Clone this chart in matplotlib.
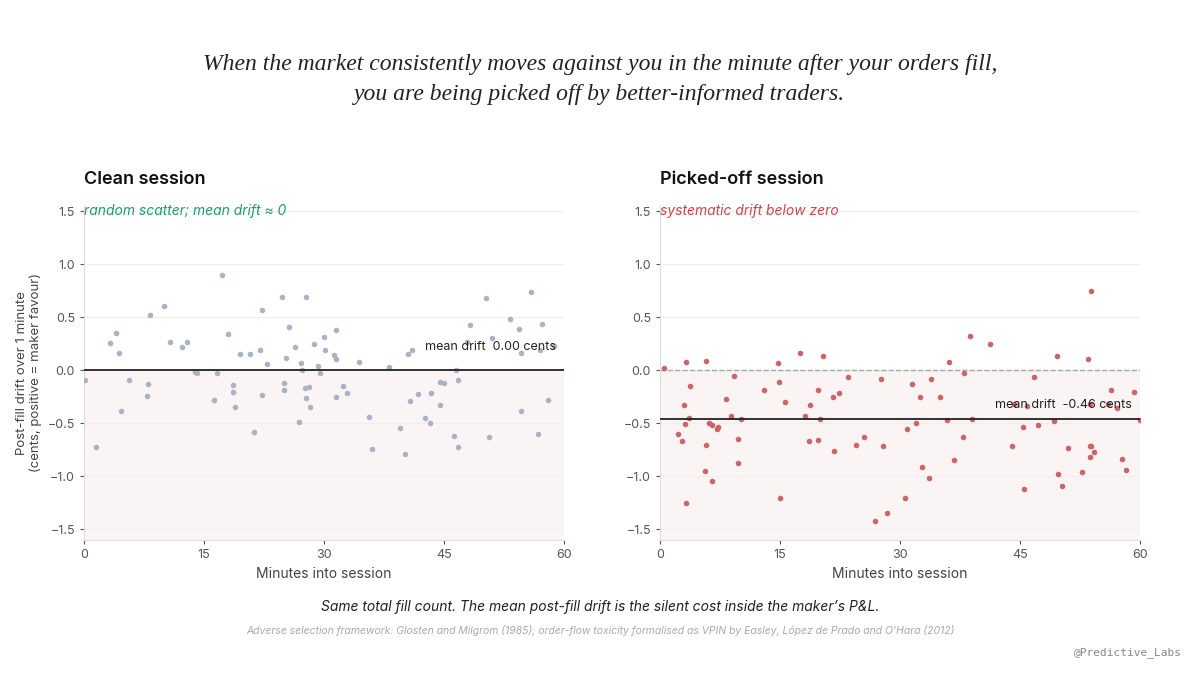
import matplotlib
matplotlib.use('Agg')
from matplotlib import pyplot as plt

# clean session: minute, drift (cents)
clean_t = [0.1, 1.5, 3.2, 4.0, 4.4, 4.6, 5.6, 8.0, 7.9, 8.3, 10.0, 10.8, 12.3, 12.9, 13.9, 14.1,
           16.2, 16.6, 17.3, 18.0, 18.6, 18.6, 18.9, 19.5, 20.7, 21.2, 22.0, 22.3, 22.3, 22.9,
           24.8, 25.0, 25.0, 25.3, 25.6, 26.4, 26.9, 27.1, 27.2, 27.6, 27.8, 27.7, 28.1, 28.3,
           28.7, 29.2, 29.5, 30.0, 30.1, 31.3, 31.5, 31.5, 31.5, 32.4, 32.9, 34.4, 35.6, 36.0,
           38.1, 39.5, 40.1, 40.5, 40.8, 41.0, 41.8, 42.6, 43.2, 43.4, 44.5, 44.5, 45.0, 46.2,
           46.5, 46.7, 46.8, 47.9, 48.2, 50.3, 50.6, 51.0, 53.3, 54.4, 54.6, 54.6, 55.9, 56.8,
           57.0, 57.3, 58.0, 58.7]
clean_y = [-0.09, -0.72, 0.26, 0.35, 0.16, -0.38, -0.09, -0.13, -0.24, 0.52, 0.61, 0.27, 0.22, 0.27, -0.02, -0.03,
           -0.28, -0.03, 0.90, 0.34, -0.14, -0.20, -0.35, 0.15, 0.15, -0.58, 0.19, -0.23, 0.57, 0.06,
           0.69, -0.12, -0.19, 0.12, 0.41, 0.22, -0.49, 0.07, 0.0, -0.17, 0.69, -0.26, -0.16, -0.35,
           0.25, 0.04, -0.03, 0.31, 0.19, 0.14, 0.38, 0.11, -0.25, -0.15, -0.21, 0.08, -0.44, -0.74,
           0.03, -0.54, -0.79, 0.15, -0.29, 0.19, -0.22, -0.45, -0.50, -0.21, -0.11, -0.33, -0.12, -0.62,
           0.0, -0.72, -0.09, 0.27, 0.43, 0.68, -0.63, 0.30, 0.48, 0.39, -0.38, 0.16, 0.74, -0.60,
           0.19, 0.44, -0.28, 0.23]

# picked-off session
picked_t = [0.5, 3.3, 3.0, 3.7, 3.6, 3.1, 2.3, 2.8, 3.3, 5.7, 5.7, 5.6, 6.5, 6.1, 6.5, 7.1, 7.3,
            8.2, 8.9, 9.2, 9.7, 9.8, 10.1, 13.0, 14.7, 14.9, 15.0, 15.6, 17.5, 18.1, 18.8, 18.6,
            19.8, 19.8, 20.0, 20.4, 21.6, 21.8, 22.4, 23.5, 24.5, 25.5, 26.9, 27.6, 27.9, 28.4,
            30.6, 30.9, 31.5, 32.0, 32.5, 32.7, 33.6, 33.9, 35.0, 35.9, 36.1, 36.8, 37.9, 38.0,
            38.8, 39.0, 41.3, 44.0, 44.3, 45.4, 45.5, 45.9, 46.8, 47.3, 49.2, 49.6, 49.8, 50.3,
            51.0, 52.8, 53.5, 53.9, 53.7, 53.8, 53.9, 53.7, 54.2, 56.0, 56.4, 57.1, 57.8, 58.3,
            59.3, 60.0]
picked_y = [0.02, 0.08, -0.33, -0.15, -0.45, -0.51, -0.60, -0.67, -1.25, 0.09, -0.70, -0.95, -1.04, -0.50, -0.52, -0.55, -0.53,
            -0.27, -0.43, -0.05, -0.65, -0.87, -0.46, -0.19, 0.07, -0.11, -1.20, -0.30, 0.16, -0.43, -0.33, -0.67,
            -0.66, -0.19, -0.46, 0.13, -0.25, -0.76, -0.21, -0.06, -0.70, -0.63, -1.42, -0.08, -0.71, -1.35,
            -1.20, -0.55, -0.13, -0.50, -0.25, -0.91, -1.02, -0.08, -0.25, -0.47, 0.08, -0.85, -0.63, -0.03,
            0.32, -0.46, 0.25, -0.71, -0.32, -0.53, -1.12, -0.34, -0.06, -0.52, -0.48, 0.13, -0.98, -1.09,
            -0.73, -0.96, 0.11, 0.75, -0.32, -0.71, -0.71, -0.82, -0.77, -0.32, -0.19, -0.36, -0.84, -0.94,
            -0.20, -0.47]

clean_mean = 0.00
picked_mean = -0.46

plt.rcParams['font.family'] = ['Inter', 'DejaVu Sans']
fig = plt.figure(figsize=(12, 6.75), dpi=100)

fig.text(0.5, 0.882, 'When the market consistently moves against you in the minute after your orders fill,\n'
         'you are being picked off by better-informed traders.',
         ha='center', va='center', fontsize=17, style='italic', family='Liberation Serif',
         color='#222222', linespacing=1.55)

panels = [
    (0.07, 'Clean session', clean_t, clean_y, clean_mean, '#aab3c6',
     'random scatter; mean drift \u2248 0', '#1f9a72', 'mean drift  0.00 cents', 0.16),
    (0.55, 'Picked-off session', picked_t, picked_y, picked_mean, '#cc6468',
     'systematic drift below zero', '#c8474b', 'mean drift  -0.46 cents', 0.08),
]

for i, (left, title, t, y, m, col, note, ncol, mlabel, dy) in enumerate(panels):
    ax = fig.add_axes([left, 0.2, 0.4, 0.495])
    ax.axhspan(-1.6, 0, color='#faf4f4', zorder=0)
    ax.scatter(t, y, s=16, color=col, zorder=3, linewidths=0)
    ax.axhline(m, color='#222222', lw=1.3, zorder=4)
    if i == 1:
        ax.axhline(0, color='#aaaaaa', lw=1, ls='--', zorder=2)
    ax.text(59, m + dy, mlabel, ha='right', va='bottom', fontsize=9, color='#222222', zorder=5)
    ax.set_xlim(0, 60)
    ax.set_ylim(-1.6, 1.55)
    ax.set_xticks([0, 15, 30, 45, 60])
    ax.set_yticks([-1.5, -1.0, -0.5, 0.0, 0.5, 1.0, 1.5])
    ax.grid(axis='y', color='#eeeeee', lw=0.8)
    ax.set_axisbelow(True)
    for s in ['top', 'right']:
        ax.spines[s].set_visible(False)
    for s in ['left', 'bottom']:
        ax.spines[s].set_color('#dddddd')
    ax.tick_params(colors='#555555', labelsize=9, length=3)
    ax.set_xlabel('Minutes into session', fontsize=10, color='#444444')
    ax.set_title(title, loc='left', fontsize=13, fontweight='semibold', color='#111111', pad=16)
    ax.text(0, 1.5, note, fontsize=10, style='italic', color=ncol, va='center')
    if i == 0:
        ax.set_ylabel('Post-fill drift over 1 minute\n(cents, positive = maker favour)',
                      fontsize=9.5, color='#444444')

fig.text(0.5, 0.095, 'Same total fill count. The mean post-fill drift is the silent cost inside the maker\u2019s P&L.',
         ha='center', fontsize=10, style='italic', color='#222222')
fig.text(0.5, 0.06, 'Adverse selection framework: Glosten and Milgrom (1985); order-flow toxicity formalised as VPIN by Easley, L\u00f3pez de Prado and O\u2019Hara (2012)',
         ha='center', fontsize=7.5, style='italic', color='#aaaaaa')
fig.text(0.985, 0.03, '@Predictive_Labs', ha='right', fontsize=8, family='DejaVu Sans Mono', color='#888888')

fig.savefig('out.png', dpi=100)
